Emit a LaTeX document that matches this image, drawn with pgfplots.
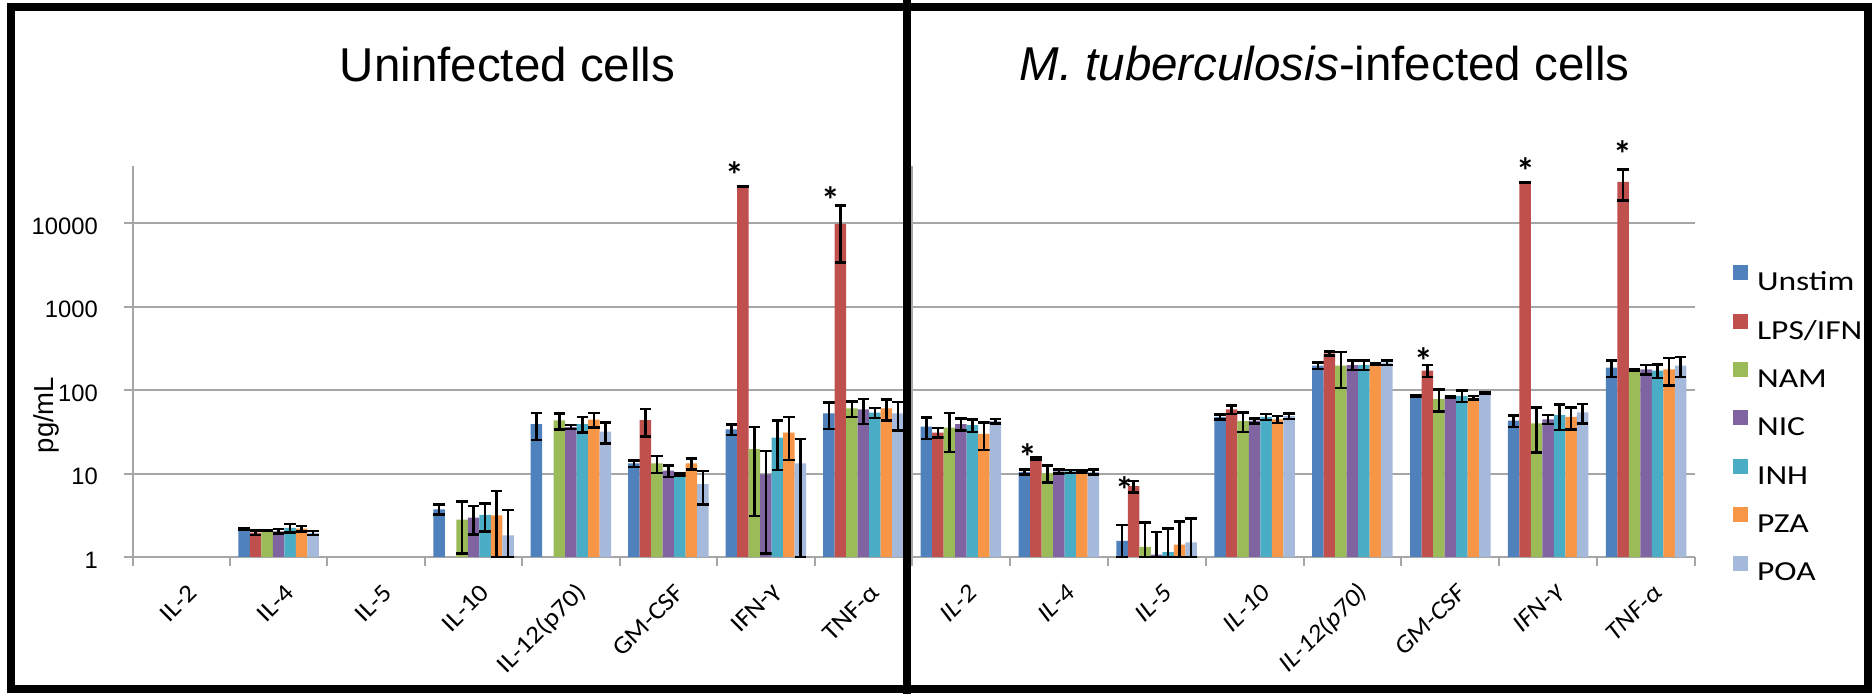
\documentclass[border=0pt]{standalone}
\usepackage{fontspec}
\setmainfont{Carlito}
\newfontfamily\arialfont{Liberation Sans}
\newfontfamily\legendfont[FakeStretch=1.22]{Carlito}
\newfontfamily\labelfont[FakeStretch=1.1]{Carlito}
\usepackage{pgfplots}
\pgfplotsset{compat=1.18}

\definecolor{cUnstim}{HTML}{4F81BD}
\definecolor{cLPS}{HTML}{C0504D}
\definecolor{cNAM}{HTML}{9BBB59}
\definecolor{cNIC}{HTML}{8064A2}
\definecolor{cINH}{HTML}{4BACC6}
\definecolor{cPZA}{HTML}{F79646}
\definecolor{cPOA}{HTML}{A5B9DB}
\definecolor{gridgray}{HTML}{A6A6A6}

\tikzset{signif/.style={font=\bfseries\fontsize{15}{17}\selectfont, inner sep=0pt, anchor=center, yshift=-3pt}}
\pgfplotsset{errstyle/.style={error bars/.cd, y dir=both, y explicit,
    error bar style={draw=black, line width=1pt},
    error mark options={draw=black, line width=1pt, mark size=2.3pt, rotate=90}}}

\begin{document}
\begin{tikzpicture}
\useasboundingbox (0,0) rectangle (749.2pt,277.6pt);
\fill[white] (0,0) rectangle (749.2pt,277.6pt);

% ---------------- uninfected cells ----------------
\begin{axis}[at={(53pt,54.8pt)}, anchor=south west,
  scale only axis, width=311.8pt, height=156.4pt,
  ymode=log, ymin=1, ymax=48400,
  xmin=-0.5, xmax=7.5,
  ybar=0pt, bar width=4.6pt,
  clip=false,
  axis x line*=bottom, axis y line*=left,
  axis line style={gridgray, line width=0.8pt},
  tick align=outside,
  major tick length=3.5pt, minor tick length=3.5pt,
  xtick={0.12,1.12,2.12,3.12,4.12,5.12,6.12,7.12},
  xticklabels={IL-2,IL-4,IL-5,IL-10,IL-12(p70),GM-CSF,IFN-γ,TNF-α},
  major x tick style={draw=none},
  minor xtick={-0.5,0.5,...,7.5},
  minor x tick style={gridgray, line width=0.8pt},
  ytick={1,10,100,1000,10000},
  yticklabels={1,10,100,1000,10000},
  yminorticks=false,
  ymajorgrids,
  grid style={gridgray, line width=0.8pt},
  major y tick style={gridgray, line width=0.8pt},
  x tick label style={font=\labelfont\fontsize{10}{12}\selectfont, inner sep=0pt, rotate=45, anchor=east},
  xticklabel shift=9pt,
  yticklabel style={font=\arialfont\fontsize{9.5}{11}\selectfont, inner sep=0pt,
    xshift=-10.2pt, yshift=-1.2pt},
  ylabel={pg/mL},
  ylabel style={font=\arialfont\fontsize{11}{13}\selectfont,
    at={(axis description cs:-0.111,0.363)}, anchor=center}]
\addplot[fill=cUnstim, draw=none, errstyle] table[x=x, y=y, y error plus=ep, y error minus=em] {
x y ep em
0 nan 0 0
1 2.19 0.05 0.05
2 nan 0 0
3 3.73 0.5 0.5
4 39.2 14 14
5 13.2 1.2 1.2
6 33.7 4.8 4.8
7 52.5 18.5 18.5
};
\addplot[fill=cLPS, draw=none, errstyle] table[x=x, y=y, y error plus=ep, y error minus=em] {
x y ep em
0 nan 0 0
1 1.96 0.12 0.12
2 nan 0 0
3 nan 0 0
4 nan 0 0
5 43.7 16 16
6 27500 0 0
7 9800 6400 6400
};
\addplot[fill=cNAM, draw=none, errstyle] table[x=x, y=y, y error plus=ep, y error minus=em] {
x y ep em
0 nan 0 0
1 2.09 0.03 0.03
2 nan 0 0
3 2.8 1.8 1.7
4 43.2 9.5 9.5
5 13.2 3 3
6 19.6 16.5 16.5
7 60.3 13 13
};
\addplot[fill=cNIC, draw=none, errstyle] table[x=x, y=y, y error plus=ep, y error minus=em] {
x y ep em
0 nan 0 0
1 2.03 0.13 0.13
2 nan 0 0
3 2.97 1.1 1.1
4 36 2 2
5 10.8 1.7 1.7
6 9.8 8.7 8.7
7 58.6 19.5 19.5
};
\addplot[fill=cINH, draw=none, errstyle] table[x=x, y=y, y error plus=ep, y error minus=em] {
x y ep em
0 nan 0 0
1 2.23 0.27 0.27
2 nan 0 0
3 3.19 1.16 1.16
4 39.2 8.2 8.2
5 9.8 0.3 0.3
6 27 16 16
7 53.5 7.5 7.5
};
\addplot[fill=cPZA, draw=none, errstyle] table[x=x, y=y, y error plus=ep, y error minus=em] {
x y ep em
0 nan 0 0
1 2.19 0.16 0.16
2 nan 0 0
3 3.16 3.0 2.16
4 44.3 8.5 8.5
5 13.2 2 2
6 31 16.5 16.5
7 60.3 17 17
};
\addplot[fill=cPOA, draw=none, errstyle] table[x=x, y=y, y error plus=ep, y error minus=em] {
x y ep em
0 nan 0 0
1 1.94 0.1 0.1
2 nan 0 0
3 1.82 1.84 0.82
4 31.8 9 9
5 7.45 3.2 3.2
6 13.2 12.9 12.2
7 52.5 19.7 19.7
};
\node[signif] at (axis cs:5.682,45800) {*};
\node[signif] at (axis cs:6.672,22960) {*};
\end{axis}

% ---------------- infected cells ----------------
\begin{axis}[at={(364.8pt,54.8pt)}, anchor=south west,
  scale only axis, width=313.2pt, height=156.4pt,
  ymode=log, ymin=1, ymax=48400,
  xmin=-0.5, xmax=7.5,
  ybar=0pt, bar width=4.6pt,
  clip=false,
  axis x line*=bottom, axis y line*=left,
  axis line style={gridgray, line width=0.8pt},
  tick align=outside,
  major tick length=3.5pt, minor tick length=3.5pt,
  xtick={0.12,1.12,2.12,3.12,4.12,5.12,6.12,7.12},
  xticklabels={IL-2,IL-4,IL-5,IL-10,IL-12(p70),GM-CSF,IFN-γ,TNF-α},
  major x tick style={draw=none},
  minor xtick={-0.5,0.5,...,7.5},
  minor x tick style={gridgray, line width=0.8pt},
  ytick={1,10,100,1000,10000},
  yticklabels={},
  yminorticks=false,
  ymajorgrids,
  grid style={gridgray, line width=0.8pt},
  major y tick style={draw=none},
  x tick label style={font=\labelfont\itshape\fontsize{10}{12}\selectfont, inner sep=0pt, rotate=45, anchor=east},
  xticklabel shift=9pt,
  legend image code/.code={\fill[#1] (0pt,1.4pt) rectangle (6pt,7.4pt);},
  legend cell align=left,
  legend style={at={(1.0483,0.3317)}, anchor=west, draw=none, fill=none,
    inner sep=0pt, outer sep=0pt, row sep=5.9pt,
    font=\legendfont\fontsize{11}{13}\selectfont,
    nodes={inner ysep=1.3pt, inner xsep=3.7pt, text height=7.5pt, text depth=2pt}}]
\addplot[fill=cUnstim, draw=none, errstyle] table[x=x, y=y, y error plus=ep, y error minus=em] {
x y ep em
0 36.6 10.5 10.5
1 10.5 0.7 0.7
2 1.56 0.86 0.56
3 47.9 3.3 3.3
4 195.9 17 17
5 85.5 2 2
6 42.9 6.8 6.8
7 185.4 42 42
};
\addplot[fill=cLPS, draw=none, errstyle] table[x=x, y=y, y error plus=ep, y error minus=em] {
x y ep em
0 31 4 4
1 15.1 0.4 0.4
2 7.05 1.1 1.1
3 58.6 6.8 6.8
4 275 15 15
5 170.6 28 28
6 30900 0 0
7 31300 12600 12600
};
\addplot[fill=cNAM, draw=none, errstyle] table[x=x, y=y, y error plus=ep, y error minus=em] {
x y ep em
0 35.6 17.5 17.5
1 10.1 2.3 2.3
2 1.32 1.28 0.32
3 42.5 11 11
4 196 90 90
5 78 23 23
6 39.8 22 22
7 174 4 4
};
\addplot[fill=cNIC, draw=none, errstyle] table[x=x, y=y, y error plus=ep, y error minus=em] {
x y ep em
0 39.1 6.5 6.5
1 10.6 0.6 0.6
2 1.07 0.91 0.07
3 42.9 3 3
4 199.5 25.5 25.5
5 83.2 2 2
6 44.5 5.5 5.5
7 177 24 24
};
\addplot[fill=cINH, draw=none, errstyle] table[x=x, y=y, y error plus=ep, y error minus=em] {
x y ep em
0 38 6.5 6.5
1 10.6 0.5 0.5
2 1.14 1.05 0.14
3 47.9 4 4
4 199.5 26 26
5 85.5 14 14
6 50.1 16.8 16.8
7 170.6 31 31
};
\addplot[fill=cPZA, draw=none, errstyle] table[x=x, y=y, y error plus=ep, y error minus=em] {
x y ep em
0 29.9 10.7 10.7
1 10.6 0.3 0.3
2 1.41 1.24 0.41
3 44.5 4.3 4.3
4 205 5 5
5 80.9 4 4
6 47.9 14 14
7 177 64 64
};
\addplot[fill=cPOA, draw=none, errstyle] table[x=x, y=y, y error plus=ep, y error minus=em] {
x y ep em
0 42.5 2.5 2.5
1 10.5 0.7 0.7
2 1.5 1.38 0.5
3 48.8 3.8 3.8
4 212.8 12 12
5 92.9 1.5 1.5
6 54 14 14
7 195.9 53 53
};
\legend{Unstim,LPS/IFN,NAM,NIC,INH,PZA,POA}
\node[signif] at (axis cs:0.683,19.6) {*};
\node[signif] at (axis cs:1.673,7.87) {*};
\node[signif] at (axis cs:4.734,275) {*};
\node[signif] at (axis cs:5.775,52100) {*};
\node[signif] at (axis cs:6.765,82400) {*};
\end{axis}

% titles
\node[font=\arialfont\fontsize{19}{22}\selectfont, anchor=base] at (203pt,244.8pt) {Uninfected cells};
\node[font=\arialfont\fontsize{19}{22}\selectfont, anchor=base] at (529.8pt,245.2pt) {{\itshape M. tuberculosis}-infected cells};

% frame and divider
\draw[line width=3.2pt] (4.4pt,1.8pt) rectangle (747.2pt,274.6pt);
\fill (361.2pt,0pt) rectangle (364.4pt,277.6pt);
\end{tikzpicture}
\end{document}
